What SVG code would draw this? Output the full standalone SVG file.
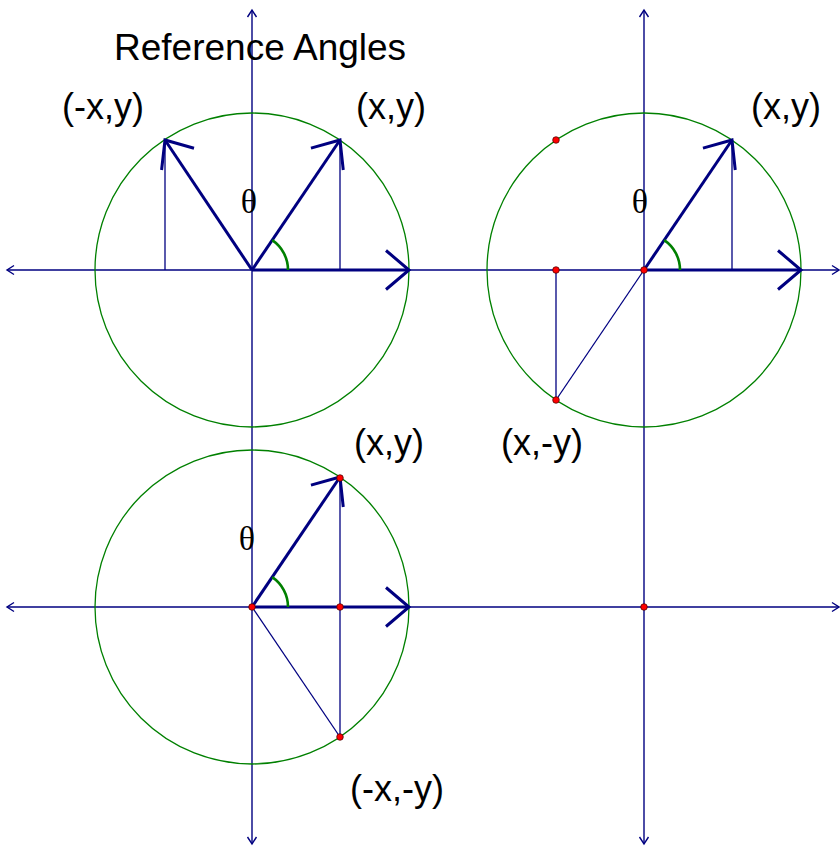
<svg xmlns="http://www.w3.org/2000/svg" width="840" height="847" viewBox="0 0 840 847">
<defs>
<style>
.axis{stroke:#000080;stroke-width:1.4;fill:none}
.thin{stroke:#000080;stroke-width:1.3;fill:none}
.vec{stroke:#000080;stroke-width:3;fill:none}
.circ{stroke:#008000;stroke-width:1.3;fill:none}
.arc{stroke:#008000;stroke-width:2.6;fill:none}
.dot{fill:#ff0000;stroke:#400000;stroke-width:0.7}
.lbl{font-family:"Liberation Sans",Arial,sans-serif;font-size:36px;fill:#000}
.th{font-family:"Liberation Serif","Times New Roman",serif;font-size:34px;fill:#000}
</style>
<marker id="ah" markerUnits="userSpaceOnUse" viewBox="-32 -22 36 44" markerWidth="36" markerHeight="44" refX="0" refY="0" orient="auto" overflow="visible">
<path d="M-23,-19.5 L0,0 L-23,19.5" fill="none" stroke="#000080" stroke-width="3"/>
</marker>
<marker id="sa" markerUnits="userSpaceOnUse" viewBox="-10 -6 12 12" markerWidth="12" markerHeight="12" refX="0" refY="0" orient="auto" overflow="visible">
<path d="M-7,-4.5 L0,0 L-7,4.5" fill="none" stroke="#000080" stroke-width="1.4"/>
</marker>
</defs>
<rect width="840" height="847" fill="#fff"/>
<g id="axes">
<line class="axis" x1="252" y1="270" x2="7" y2="270" marker-end="url(#sa)"/>
<line class="axis" x1="252" y1="270" x2="839" y2="270" marker-end="url(#sa)"/>
<line class="axis" x1="252" y1="607" x2="7" y2="607" marker-end="url(#sa)"/>
<line class="axis" x1="252" y1="607" x2="839" y2="607" marker-end="url(#sa)"/>
<line class="axis" x1="252" y1="400" x2="252" y2="10" marker-end="url(#sa)"/>
<line class="axis" x1="252" y1="400" x2="252" y2="844" marker-end="url(#sa)"/>
<line class="axis" x1="644" y1="400" x2="644" y2="10" marker-end="url(#sa)"/>
<line class="axis" x1="644" y1="400" x2="644" y2="844" marker-end="url(#sa)"/>
</g>
<g id="panel1">
<circle class="circ" cx="252" cy="270" r="157"/>
<line class="thin" x1="165" y1="140" x2="165" y2="270"/>
<line class="thin" x1="340" y1="140" x2="340" y2="270"/>
<line class="vec" x1="252" y1="270" x2="409" y2="270" marker-end="url(#ah)"/>
<line class="vec" x1="252" y1="270" x2="340" y2="140" marker-end="url(#ah)"/>
<line class="vec" x1="252" y1="270" x2="165" y2="140" marker-end="url(#ah)"/>
<path class="arc" d="M288,270 A36,36 0 0 0 272.2,240.2"/>
<text class="th" x="249" y="213" text-anchor="middle">θ</text>
</g>
<g id="panel2">
<circle class="circ" cx="644" cy="270" r="157"/>
<line class="thin" x1="732" y1="140" x2="732" y2="270"/>
<line class="thin" x1="556" y1="270" x2="556" y2="400"/>
<line class="thin" x1="644" y1="270" x2="556" y2="400"/>
<line class="vec" x1="644" y1="270" x2="801" y2="270" marker-end="url(#ah)"/>
<line class="vec" x1="644" y1="270" x2="732" y2="140" marker-end="url(#ah)"/>
<path class="arc" d="M680,270 A36,36 0 0 0 664.2,240.2"/>
<text class="th" x="640" y="213" text-anchor="middle">θ</text>
<circle class="dot" cx="556" cy="140" r="3.3"/>
<circle class="dot" cx="556" cy="270" r="3.3"/>
<circle class="dot" cx="644" cy="270" r="3.3"/>
<circle class="dot" cx="556" cy="400" r="3.3"/>
</g>
<g id="panel3">
<circle class="circ" cx="252" cy="607" r="157"/>
<line class="thin" x1="340" y1="477" x2="340" y2="737"/>
<line class="thin" x1="252" y1="607" x2="340" y2="737"/>
<line class="vec" x1="252" y1="607" x2="409" y2="607" marker-end="url(#ah)"/>
<line class="vec" x1="252" y1="607" x2="340" y2="477" marker-end="url(#ah)"/>
<path class="arc" d="M288,607 A36,36 0 0 0 272.2,577.2"/>
<text class="th" x="247" y="550" text-anchor="middle">θ</text>
<circle class="dot" cx="340" cy="478" r="3.3"/>
<circle class="dot" cx="252" cy="607" r="3.3"/>
<circle class="dot" cx="340" cy="607" r="3.3"/>
<circle class="dot" cx="340" cy="737" r="3.3"/>
<circle class="dot" cx="644" cy="607" r="3.3"/>
</g>
<g id="labels">
<text class="lbl" x="114" y="60" style="font-size:37px">Reference Angles</text>
<text class="lbl" x="62" y="119">(-x,y)</text>
<text class="lbl" x="356" y="119">(x,y)</text>
<text class="lbl" x="751" y="119">(x,y)</text>
<text class="lbl" x="354" y="455">(x,y)</text>
<text class="lbl" x="501" y="455">(x,-y)</text>
<text class="lbl" x="350" y="801">(-x,-y)</text>
</g>
</svg>
